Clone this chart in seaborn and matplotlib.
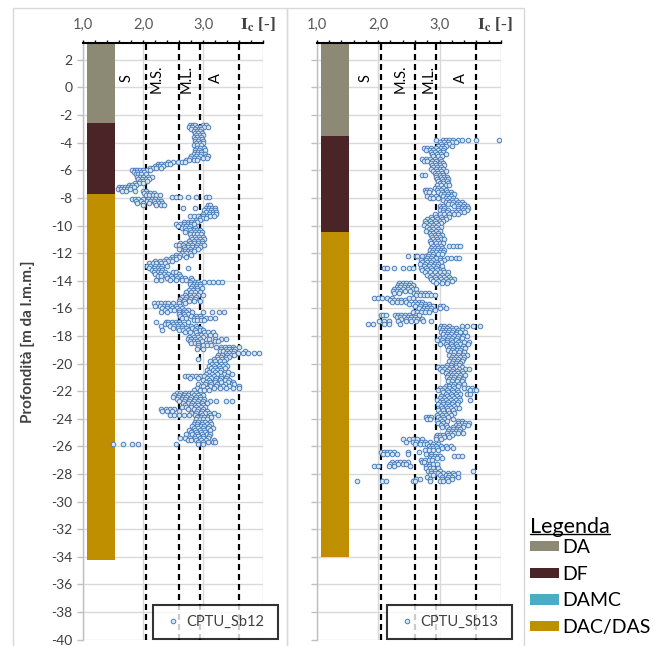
import matplotlib
matplotlib.use("Agg")
import matplotlib.pyplot as plt
import matplotlib.transforms as mtransforms
from matplotlib.patches import Patch, Rectangle
from matplotlib.lines import Line2D
import seaborn as sns
import pandas as pd

sns.set_theme(style="white")
plt.rcParams["font.family"] = ["Lato", "DejaVu Sans"]
plt.rcParams["mathtext.fontset"] = "stix"

# ---------------- data ----------------
x_ticks = [1, 2, 3, 4]
x_tick_labels = ["1,0", "2,0", "3,0", ""]
y_ticks = list(range(-40, 3, 2))
ic_limits = [2.05, 2.6, 2.95, 3.6]
zone_labels = ["S", "M.S.", "M.L.", "A"]
zone_x_sb12 = [1.73, 2.23, 2.73, 3.21]
zone_x_sb13 = [1.80, 2.36, 2.82, 3.34]

legend_names = ["DA", "DF", "DAMC", "DAC/DAS"]
legend_colors = ["#8C8A75", "#4B2427", "#4BACC6", "#BF8F00"]

sb12_layer_names = ["DA", "DF", "DAC/DAS"]
sb12_layer_top = [3.2, -2.6, -7.7]
sb12_layer_bottom = [-2.6, -7.7, -34.2]
sb13_layer_names = ["DA", "DF", "DAC/DAS"]
sb13_layer_top = [3.2, -3.5, -10.5]
sb13_layer_bottom = [-3.5, -10.5, -34.0]

sb12_depth = [-2.70, -2.85, -3.00, -3.15, -3.30, -3.45, -3.60, -3.75, -3.90, -4.05,
              -4.20, -4.35, -4.50, -4.65, -4.80, -4.95, -5.10, -5.25, -5.40, -5.55,
              -5.70, -5.85, -6.00, -6.15, -6.30, -6.45, -6.60, -6.75, -6.90, -7.05,
              -7.20, -7.35, -7.50, -7.65, -7.80, -7.95, -8.10, -8.25, -8.40, -8.55,
              -8.70, -8.85, -9.00, -9.15, -9.30, -9.45, -9.60, -9.75, -9.90, -10.05,
              -10.20, -10.35, -10.50, -10.65, -10.80, -10.95, -11.10, -11.25, -11.40, -11.55,
              -11.70, -11.85, -12.00, -12.15, -12.30, -12.45, -12.60, -12.75, -12.90, -13.05,
              -13.20, -13.35, -13.50, -13.65, -13.80, -13.95, -14.10, -14.25, -14.40, -14.55,
              -14.70, -14.85, -15.00, -15.15, -15.30, -15.50, -15.65, -15.80, -15.95, -16.10,
              -16.25, -16.40, -16.55, -16.70, -16.85, -17.00, -17.15, -17.30, -17.45, -17.60,
              -17.75, -17.90, -18.05, -18.20, -18.35, -18.50, -18.65, -18.80, -18.95, -19.10,
              -19.25, -19.40, -19.55, -19.70, -19.85, -20.00, -20.15, -20.30, -20.45, -20.60,
              -20.75, -20.90, -21.05, -21.20, -21.35, -21.50, -21.65, -21.80, -21.95, -22.10,
              -22.25, -22.40, -22.55, -22.70, -22.85, -23.00, -23.15, -23.30, -23.45, -23.60,
              -23.75, -23.90, -24.05, -24.20, -24.35, -24.50, -24.65, -24.80, -24.95, -25.10,
              -25.25, -25.40, -25.55, -25.70, -25.85]
sb12_ic = [
    [2.78, 2.83, 2.86, 3.00, 3.05], [2.76, 2.81, 2.90, 2.95, 3.02, 3.08], [2.80, 2.86, 2.93, 2.97],
    [2.84, 2.90, 2.95], [2.86, 2.92, 2.98], [2.88, 2.94, 2.99], [2.85, 2.90, 2.96], [2.87, 2.93, 2.98],
    [2.86, 2.92, 3.00], [2.88, 2.95, 2.99], [2.85, 2.90, 2.97], [2.89, 2.94, 3.01], [2.87, 2.93, 3.03],
    [2.86, 2.92, 2.97], [2.84, 2.90, 2.96, 3.04], [2.80, 2.88, 2.95, 3.05, 3.08],
    [2.78, 2.85, 2.92, 3.00, 3.07], [2.72, 2.77, 2.84, 2.89], [2.42, 2.50, 2.58, 2.64, 2.70],
    [2.25, 2.30, 2.36, 2.40, 2.45], [2.20, 2.24, 2.28, 2.33], [2.12, 2.17, 2.22, 2.30],
    [1.82, 1.86, 1.90, 1.95, 2.00, 2.06, 2.12], [1.84, 1.90, 1.96, 2.02], [1.88, 1.92, 1.97, 2.04],
    [1.90, 1.95, 2.00, 2.08, 2.14], [1.92, 1.98, 2.05, 2.10], [1.95, 2.00, 2.06], [1.87, 1.93, 1.99],
    [1.76, 1.82, 1.88], [1.60, 1.65, 1.70, 1.75, 1.80, 1.85], [1.58, 1.63, 1.68, 1.73, 1.78],
    [1.64, 1.72, 1.86, 2.00, 2.05], [2.02, 2.08, 2.12, 2.18], [2.05, 2.10, 2.16, 2.22, 2.28],
    [2.48, 2.55, 2.62, 2.75, 2.88, 3.05, 3.10], [1.82, 1.86, 1.92, 2.00, 2.08, 2.14, 2.20],
    [1.88, 1.96, 2.06, 2.12, 2.18, 2.24, 2.30], [1.90, 2.00, 2.10, 2.20, 2.27, 2.32],
    [2.00, 2.22, 2.30, 2.35, 3.08, 3.12], [2.66, 2.87, 3.05, 3.10, 3.15, 3.20],
    [3.02, 3.08, 3.14, 3.20], [3.05, 3.11, 3.17, 3.22], [3.00, 3.10, 3.16, 3.22],
    [2.78, 2.85, 2.92, 3.00, 3.06, 3.12, 3.18], [2.95, 3.00, 3.05], [2.88, 2.95],
    [2.68, 2.75, 2.80, 2.86, 2.90], [2.55, 2.62, 2.68, 2.74, 2.80, 2.85], [2.58, 2.66, 2.72, 2.78],
    [2.65, 2.70, 2.76, 2.86], [2.72, 2.78, 2.84, 2.90, 2.95], [2.70, 2.80, 2.87, 2.93, 2.98],
    [2.78, 2.84, 2.90, 2.97], [2.80, 2.86, 2.93, 3.00], [2.82, 2.88, 2.95, 3.02], [2.76, 2.84, 2.92, 2.98],
    [2.62, 2.70, 2.78, 2.85, 2.92, 2.98], [2.55, 2.60, 2.66, 2.74, 2.82, 2.90, 2.96, 3.02],
    [2.68, 2.75, 2.82, 2.88, 2.95], [2.60, 2.70, 2.78, 2.86, 2.92], [2.70, 2.75, 2.80, 2.85],
    [2.64, 2.72, 2.78], [2.55, 2.62, 2.68, 2.80], [2.48, 2.55, 2.60, 2.72], [2.38, 2.45, 2.50, 2.55],
    [2.20, 2.28, 2.35, 2.42, 2.48], [2.10, 2.16, 2.22, 2.30, 2.36], [2.06, 2.12, 2.20, 2.26, 2.32, 2.40],
    [2.10, 2.18, 2.24, 2.30, 2.75], [2.15, 2.20, 2.26, 2.32], [2.18, 2.24, 2.30, 2.36, 2.50, 2.55],
    [2.20, 2.28, 2.34, 2.42, 2.60], [2.25, 2.30, 2.38, 2.46, 2.54, 2.62],
    [2.40, 2.48, 2.56, 2.64, 2.70, 2.80], [2.22, 2.30, 2.45, 2.55, 2.65, 2.72, 2.82],
    [2.78, 2.86, 2.92, 3.02, 3.10, 3.17, 3.25, 3.32], [2.78, 2.85, 2.90, 2.95], [2.82, 2.88, 2.94],
    [2.80, 2.86, 2.90, 2.98], [2.76, 2.83, 2.90], [2.72, 2.80, 2.86, 2.94], [2.70, 2.78, 2.85, 2.92, 3.00],
    [2.65, 2.72, 2.80, 2.88], [2.62, 2.70, 2.78, 2.86], [2.60, 2.68, 2.76, 2.85, 2.95],
    [2.18, 2.24, 2.30, 2.36, 2.42, 2.50, 2.60, 2.70], [2.20, 2.28, 2.34, 2.40, 2.46, 2.55, 2.62],
    [2.32, 2.40, 2.48, 2.56, 2.64], [2.36, 2.44, 2.52, 2.60, 2.68, 2.75],
    [2.30, 2.40, 2.60, 2.68, 2.72, 2.82, 3.00, 3.15, 3.27, 3.35], [2.60, 2.68, 2.74],
    [2.62, 2.70, 2.80, 2.88, 2.95], [2.65, 2.72, 2.85, 2.90, 2.96, 3.05, 3.12, 3.20],
    [2.84, 2.90, 2.96, 3.02], [2.22, 2.38, 2.42, 2.48, 2.54, 2.60, 2.75],
    [2.36, 2.42, 2.50, 2.56, 2.62, 2.68], [2.30, 2.45, 2.52, 2.58, 2.65, 2.80, 2.88],
    [2.50, 2.58, 2.64, 2.72, 2.82, 2.90, 2.95], [2.32, 2.60, 2.66, 2.74, 2.86, 2.94, 3.00],
    [2.70, 2.78, 2.88, 3.02, 3.08, 3.16], [2.90, 2.96, 3.04, 3.12, 3.20], [2.76, 2.85, 2.92, 3.00],
    [2.74, 2.80, 2.86, 2.94, 3.10, 3.20, 3.30, 3.38], [2.78, 2.84, 2.90, 2.98, 3.20, 3.25],
    [2.80, 2.86, 2.92, 3.05, 3.12], [2.92, 3.00, 3.06, 3.14], [2.92, 3.22, 3.30, 3.36, 3.44, 3.50, 3.60],
    [2.90, 3.00, 3.30, 3.38, 3.44, 3.50, 3.54], [3.28, 3.34, 3.40, 3.46, 3.52, 3.70],
    [3.38, 3.44, 3.50, 3.58, 3.67, 3.75, 3.85, 3.93], [3.25, 3.32, 3.40, 3.46, 3.52],
    [3.24, 3.30, 3.38, 3.44], [2.92, 3.18, 3.25, 3.32, 3.38], [3.12, 3.20, 3.28, 3.35],
    [3.15, 3.22, 3.30, 3.36], [3.10, 3.18, 3.26, 3.34, 3.40], [3.14, 3.20, 3.28, 3.36],
    [3.06, 3.16, 3.24, 3.30], [3.10, 3.20, 3.28, 3.42], [3.05, 3.15, 3.24, 3.35, 3.48],
    [2.70, 2.75, 2.82, 2.88, 2.95, 3.02, 3.10, 3.18, 3.30, 3.40], [2.78, 2.92, 3.06, 3.14, 3.22, 3.30, 3.38],
    [3.00, 3.10, 3.20, 3.28, 3.36, 3.44], [3.05, 3.12, 3.20, 3.30, 3.42, 3.50],
    [2.92, 3.04, 3.14, 3.24, 3.36, 3.48, 3.52], [2.96, 3.00, 3.12, 3.22, 3.34, 3.44, 3.60],
    [2.90, 3.06, 3.18, 3.28, 3.38, 3.50, 3.60], [2.85, 2.94, 3.02, 3.10],
    [2.56, 2.62, 2.70, 2.76, 2.82, 2.88], [2.52, 2.60, 2.68, 2.75, 2.85, 2.92, 3.00],
    [2.50, 2.58, 2.66, 2.72, 2.80, 2.88, 2.95], [2.56, 2.64, 2.70, 2.78, 2.86, 2.94, 3.02],
    [2.60, 2.68, 2.76, 2.84, 2.92, 3.00, 3.12, 3.22, 3.38, 3.48], [2.66, 2.74, 2.82, 2.90, 2.98, 3.06],
    [2.70, 2.80, 2.86, 2.92, 3.00], [2.64, 2.72, 2.80, 2.88, 2.96, 3.04],
    [2.30, 2.38, 2.45, 2.52, 2.75, 2.85, 2.92, 3.00], [2.32, 2.40, 2.48, 2.60, 2.90, 2.98, 3.06],
    [2.80, 2.88, 2.96, 3.04, 3.10, 3.18], [2.44, 2.52, 2.60, 2.68, 2.76, 2.86, 2.98, 3.12, 3.25],
    [2.90, 2.96, 3.02, 3.08, 3.14], [2.88, 2.94, 3.00, 3.06], [2.86, 2.92, 2.98, 3.04, 3.12],
    [2.85, 2.90, 2.98, 3.06, 3.14], [2.82, 2.90, 2.96, 3.02, 3.10], [2.84, 2.92, 3.00, 3.08, 3.16],
    [2.76, 2.86, 2.94, 3.02, 3.12], [2.80, 2.88, 2.96, 3.04], [2.72, 2.82, 2.90, 2.98, 3.06, 3.12],
    [2.86, 2.92, 3.00, 3.10], [2.62, 2.70, 2.78, 2.86, 2.94, 3.00, 3.08],
    [2.74, 2.80, 2.88, 2.96, 3.05, 3.18], [2.92, 3.00, 3.08, 3.16, 3.20],
    [1.50, 1.66, 1.82, 1.92, 2.55, 2.92, 3.00],
]

sb13_depth = [-3.80, -3.95, -4.10, -4.25, -4.40, -4.55, -4.70, -4.85, -5.00, -5.15,
              -5.30, -5.45, -5.60, -5.75, -5.90, -6.05, -6.20, -6.35, -6.50, -6.65,
              -6.80, -6.95, -7.10, -7.25, -7.40, -7.55, -7.70, -7.85, -8.00, -8.15,
              -8.30, -8.45, -8.60, -8.75, -8.90, -9.05, -9.20, -9.35, -9.50, -9.65,
              -9.80, -9.95, -10.10, -10.25, -10.40, -10.55, -10.70, -10.85, -11.00, -11.15,
              -11.30, -11.45, -11.60, -11.75, -11.90, -12.05, -12.20, -12.35, -12.50, -12.65,
              -12.80, -12.95, -13.10, -13.25, -13.40, -13.55, -13.70, -13.85, -14.00, -14.15,
              -14.30, -14.45, -14.60, -14.75, -14.90, -15.05, -15.25, -15.40, -15.55, -15.70,
              -15.85, -16.00, -16.15, -16.30, -16.45, -16.60, -16.75, -16.90, -17.10, -17.25,
              -17.40, -17.55, -17.70, -17.85, -18.00, -18.15, -18.30, -18.45, -18.60, -18.75,
              -18.90, -19.05, -19.20, -19.35, -19.50, -19.65, -19.80, -19.95, -20.10, -20.25,
              -20.40, -20.55, -20.70, -20.85, -21.00, -21.15, -21.30, -21.45, -21.60, -21.75,
              -21.90, -22.05, -22.20, -22.35, -22.50, -22.65, -22.80, -22.95, -23.10, -23.25,
              -23.40, -23.55, -23.70, -23.85, -24.00, -24.15, -24.30, -24.45, -24.60, -24.75,
              -24.90, -25.05, -25.20, -25.35, -25.50, -25.65, -25.80, -25.95, -26.10, -26.25,
              -26.40, -26.55, -26.70, -26.85, -27.00, -27.15, -27.30, -27.45, -27.60, -27.75,
              -27.90, -28.05, -28.20, -28.35, -28.50]
sb13_ic = [
    [2.95, 3.05, 3.10, 3.16, 3.22, 3.30, 3.36, 3.47, 3.60, 3.97], [3.00, 3.08, 3.14, 3.20, 3.27],
    [3.02, 3.10, 3.16], [2.98, 3.04, 3.10, 3.20], [2.75, 2.80, 2.86, 2.95, 3.02, 3.08],
    [2.78, 2.84, 2.90, 2.98, 3.05], [2.86, 2.92, 3.00, 3.06], [2.88, 2.96, 3.02, 3.10],
    [2.90, 2.98, 3.04], [2.72, 2.78, 2.84, 2.92, 3.00], [2.74, 2.80, 2.88, 2.95, 3.02],
    [2.86, 2.92, 3.00, 3.06], [2.88, 2.94, 3.00, 3.08], [2.90, 2.96, 3.02], [2.86, 2.94, 3.00, 3.05],
    [2.90, 2.96, 3.03, 3.10], [2.92, 2.98, 3.04], [2.72, 2.76, 2.94, 3.00, 3.06],
    [2.95, 3.02, 3.08, 3.12], [2.96, 3.04, 3.10, 3.14], [2.98, 3.05, 3.12], [3.00, 3.06, 3.14],
    [2.96, 3.02, 3.10, 3.16], [2.92, 2.98, 3.05], [2.76, 2.80, 2.84, 2.96, 3.02, 3.10],
    [2.78, 2.82, 2.97, 3.04, 3.12, 3.18], [3.02, 3.08, 3.14, 3.20, 3.24],
    [2.80, 2.86, 2.94, 3.06, 3.12, 3.18], [2.84, 2.90, 2.98, 3.10, 3.16, 3.22],
    [3.06, 3.12, 3.20, 3.26], [3.10, 3.16, 3.22, 3.30, 3.36], [3.14, 3.20, 3.28, 3.34, 3.40],
    [3.00, 3.06, 3.24, 3.30, 3.38, 3.44], [3.02, 3.08, 3.30, 3.36, 3.42, 3.46],
    [3.00, 3.06, 3.14, 3.30, 3.38, 3.44], [3.06, 3.12, 3.20, 3.26, 3.34, 3.40],
    [2.92, 3.00, 3.08, 3.16, 3.24, 3.30], [2.86, 2.94, 3.02, 3.10, 3.16],
    [2.80, 2.88, 2.96, 3.04, 3.10], [2.76, 2.84, 2.92, 3.00, 3.06], [2.78, 2.86, 2.94, 3.02],
    [2.74, 2.82, 2.90, 2.98], [2.80, 2.88, 2.95, 3.02], [2.82, 2.90, 2.97], [2.78, 2.86, 2.94, 3.00],
    [2.84, 2.90, 2.98], [2.86, 2.92, 2.98, 3.04], [2.88, 2.94, 3.00], [2.90, 2.96, 3.02, 3.08],
    [2.84, 2.92, 2.98], [2.86, 2.94, 3.00, 3.06], [2.90, 2.96, 3.02, 3.16, 3.22, 3.28, 3.34],
    [2.86, 2.92, 2.98, 3.04], [2.84, 2.90, 2.96, 3.02, 3.08], [2.88, 2.94, 3.00, 3.06],
    [2.82, 2.90, 2.98, 3.04], [2.48, 2.62, 2.64, 2.72, 2.78, 2.81, 2.88],
    [2.80, 2.86, 2.94, 3.00, 3.12, 3.18, 3.26, 3.32], [2.70, 2.78, 2.84, 2.90, 3.00, 3.08],
    [2.72, 2.80, 2.86, 2.94, 3.02], [2.68, 2.76, 2.84, 2.92, 2.98], [2.74, 2.82, 2.90, 2.96, 3.04],
    [2.10, 2.15, 2.26, 2.40, 2.51, 2.56, 2.70, 2.78, 2.86, 2.94], [2.72, 2.80, 2.88, 2.96, 3.06],
    [2.76, 2.84, 2.92, 3.00, 3.08, 3.14], [2.80, 2.88, 2.96, 3.04, 3.12],
    [2.84, 2.92, 3.00, 3.08, 3.16], [2.86, 2.94, 3.02, 3.10, 3.18, 3.24],
    [2.90, 2.98, 3.06, 3.14, 3.20], [2.34, 2.40, 2.46, 2.52, 2.95, 3.04, 3.12],
    [2.32, 2.38, 2.44, 2.50, 2.56], [2.30, 2.36, 2.42, 2.48, 2.54], [2.26, 2.32, 2.40, 2.48, 2.56, 2.62],
    [2.24, 2.30, 2.36, 2.44, 2.52], [2.26, 2.34, 2.58, 2.64, 2.70, 2.76, 2.82],
    [2.62, 2.68, 2.74, 2.80, 2.86, 2.92], [1.93, 1.99, 2.07, 2.15, 2.23, 2.50, 2.56],
    [2.20, 2.26, 2.32, 2.38, 2.44], [2.22, 2.30, 2.38, 2.46, 2.60, 2.66, 2.72],
    [2.50, 2.56, 2.64, 2.70, 2.76, 2.82], [2.60, 2.68, 2.76, 2.84, 2.90, 3.00, 3.06],
    [2.66, 2.74, 2.80, 2.86, 3.00, 3.10], [2.72, 2.78, 2.84, 2.92], [2.56, 2.64, 2.70, 2.76, 2.82],
    [2.04, 2.08, 2.12, 2.27, 2.32, 2.38, 2.44, 2.50, 2.62, 2.66], [2.30, 2.36, 2.42, 2.48, 2.54, 2.60],
    [2.38, 2.46, 2.52, 2.58, 2.64, 2.72], [2.02, 2.10, 2.18, 2.32, 2.45, 2.54, 2.62, 2.73, 2.86],
    [1.83, 1.91, 2.10, 2.18, 2.35], [3.02, 3.08, 3.16, 3.36, 3.44, 3.55, 3.66],
    [3.00, 3.06, 3.12, 3.20, 3.26], [3.04, 3.10, 3.16, 3.22, 3.30, 3.36],
    [3.02, 3.08, 3.14, 3.20, 3.28, 3.34, 3.42], [3.06, 3.12, 3.18, 3.26],
    [3.10, 3.16, 3.24, 3.30, 3.38, 3.44], [3.00, 3.06, 3.14, 3.20, 3.28, 3.36],
    [2.96, 3.04, 3.12, 3.18, 3.26], [3.06, 3.12, 3.20, 3.30, 3.40, 3.48],
    [3.00, 3.10, 3.18, 3.26, 3.34, 3.46], [3.12, 3.20, 3.28, 3.38], [3.16, 3.22, 3.30, 3.36, 3.42],
    [3.14, 3.20, 3.28, 3.34], [3.18, 3.24, 3.32, 3.40], [3.16, 3.22, 3.30, 3.38, 3.44],
    [3.20, 3.26, 3.34, 3.40], [3.18, 3.24, 3.30, 3.38], [3.16, 3.22, 3.28, 3.36], [3.20, 3.26, 3.34],
    [3.12, 3.18, 3.26, 3.32], [2.98, 3.04, 3.10, 3.18, 3.26, 3.36],
    [3.00, 3.08, 3.16, 3.22, 3.32, 3.42, 3.48], [3.04, 3.12, 3.20, 3.28, 3.36],
    [3.10, 3.18, 3.24, 3.30, 3.38], [3.14, 3.20, 3.26, 3.34, 3.42], [3.12, 3.18, 3.24, 3.32],
    [3.16, 3.22, 3.30, 3.38], [3.14, 3.20, 3.28, 3.36], [3.18, 3.24, 3.32, 3.40],
    [3.10, 3.16, 3.22, 3.30], [3.00, 3.08, 3.16, 3.24, 3.40, 3.46, 3.52],
    [2.98, 3.04, 3.12, 3.20, 3.28, 3.50, 3.56, 3.60], [3.06, 3.14, 3.22, 3.30],
    [3.10, 3.18, 3.26, 3.34, 3.44, 3.50], [3.02, 3.12, 3.20, 3.28], [3.00, 3.08, 3.16, 3.24, 3.32],
    [2.96, 3.04, 3.10, 3.18, 3.26, 3.34, 3.50], [3.00, 3.06, 3.14, 3.22, 3.30],
    [2.98, 3.06, 3.12, 3.20, 3.28], [3.02, 3.10, 3.16, 3.24], [3.04, 3.12, 3.18, 3.26, 3.32],
    [2.98, 3.06, 3.14, 3.22], [3.00, 3.08, 3.16, 3.24], [2.96, 3.04, 3.10, 3.18],
    [2.78, 2.82, 2.86, 2.98, 3.06, 3.14], [2.80, 2.84, 3.00, 3.08, 3.22],
    [2.96, 3.04, 3.12, 3.30, 3.36], [2.98, 3.06, 3.30, 3.36, 3.42, 3.48],
    [3.02, 3.10, 3.26, 3.32, 3.40, 3.46], [3.04, 3.12, 3.22, 3.30, 3.38], [3.16, 3.22, 3.28, 3.34],
    [3.14, 3.20, 3.26, 3.32], [3.12, 3.18, 3.24, 3.30, 3.38], [2.96, 3.00, 3.06, 3.14, 3.20],
    [2.95, 3.00, 3.08, 3.16], [2.40, 2.50, 2.56, 2.64, 2.72, 2.95, 3.02],
    [2.46, 2.56, 2.62, 2.70, 2.76, 2.84], [2.60, 2.68, 2.74, 2.80, 2.90, 2.98],
    [2.82, 2.88, 2.94, 3.02, 3.10, 3.18], [2.84, 2.90, 2.96, 3.04, 3.12, 3.22],
    [2.76, 2.82, 2.90, 2.98], [2.04, 2.10, 2.15, 2.20, 2.26, 2.48, 2.66],
    [2.08, 2.14, 2.22, 2.30, 2.48, 2.78, 2.86], [2.86, 2.92, 2.98, 3.00, 3.24, 3.30, 3.36],
    [2.84, 2.90, 2.96, 3.04], [2.70, 2.76, 2.82, 2.88], [2.22, 2.30, 2.36, 2.42, 2.48, 2.72, 2.75],
    [2.20, 2.26, 2.32, 2.40, 2.46, 2.84, 2.90, 2.96], [1.93, 1.99, 2.18, 2.26, 2.52, 2.78, 2.82],
    [2.78, 2.84, 2.90, 2.98], [2.81, 2.86, 2.92, 3.00, 3.55],
    [2.86, 2.92, 2.98, 3.06, 3.14, 3.22, 3.30], [2.84, 2.90, 3.00, 3.10, 3.16, 3.24],
    [2.80, 3.04, 3.14, 3.20, 3.30], [2.62, 2.68, 2.84, 3.04, 3.12, 3.20],
    [1.66, 2.07, 2.12, 2.56, 2.60, 2.84, 3.00, 3.06, 3.14],
]


def rows_to_df(depths, ics):
    rec = [(ic, d) for d, row in zip(depths, ics) for ic in row]
    return pd.DataFrame(rec, columns=["Ic", "depth"])


sb12 = rows_to_df(sb12_depth, sb12_ic)
sb13 = rows_to_df(sb13_depth, sb13_ic)

# ---------------- figure ----------------
W, H = 654, 646
fig = plt.figure(figsize=(W / 100, H / 100), dpi=100)
fig.patch.set_facecolor("white")

# chart-area frames (Excel style)
fig.patches.append(Rectangle((13 / W, -0.02), 274 / W, 1 - 8 / H + 0.02, transform=fig.transFigure,
                             fill=False, edgecolor="#D9D9D9", linewidth=1.0, zorder=0))
fig.patches.append(Rectangle((287 / W, -0.02), 237 / W, 1 - 8 / H + 0.02, transform=fig.transFigure,
                             fill=False, edgecolor="#D9D9D9", linewidth=1.0, zorder=0))

ax_bottom = 1 - 639.6 / H
ax_h = (639.6 - 43.3) / H
ax1 = fig.add_axes([83.3 / W, ax_bottom, 179.7 / W, ax_h])
ax2 = fig.add_axes([316.7 / W, ax_bottom, 184.3 / W, ax_h])

panels = [
    (ax1, sb12, "CPTU_Sb12", sb12_layer_names, sb12_layer_top, sb12_layer_bottom, zone_x_sb12, True, 3.91),
    (ax2, sb13, "CPTU_Sb13", sb13_layer_names, sb13_layer_top, sb13_layer_bottom, zone_x_sb13, False, 3.9),
]

color_of = dict(zip(legend_names, legend_colors))

for ax, df, name, lnames, ltop, lbot, zx, show_y, icx in panels:
    ax.set_facecolor("white")
    ax.set_xlim(1, 4)
    ax.set_ylim(-40, 3.2)
    ax.set_axisbelow(True)
    ax.grid(True, color="#D9D9D9", linewidth=1.0)

    # soil layer column
    for n, t, b in zip(lnames, ltop, lbot):
        ax.bar(1.3, t - b, bottom=b, width=0.46, color=color_of[n], edgecolor="none", zorder=2)

    # Ic boundaries
    for v in ic_limits:
        ax.axvline(v, color="black", linewidth=1.6, linestyle=(0, (2.7, 1.8)), zorder=3)

    # zone labels
    for lab, x in zip(zone_labels, zx):
        ax.text(x, 0.65, lab, rotation=90, ha="center", va="center", fontsize=10.5,
                color="black", zorder=4)

    sns.scatterplot(data=df, x="Ic", y="depth", ax=ax, s=11, marker="o",
                    facecolor="#DCE6F2", edgecolor="#4A7EBB", linewidth=0.7,
                    label=name, zorder=5, legend=False)

    # axes styling
    ax.xaxis.tick_top()
    ax.xaxis.set_label_position("top")
    ax.set_xticks(x_ticks)
    ax.set_xticklabels(x_tick_labels)
    ax.set_xticks([1 + 0.2 * i for i in range(16)], minor=True)
    ax.tick_params(axis="x", which="both", top=True, bottom=False, direction="out",
                   length=2.5, width=1.0, color="black", labelsize=10.5,
                   labelcolor="#595959", pad=6)
    ax.set_xlabel("")

    ax.set_yticks(y_ticks)
    ax.set_yticklabels([str(t) for t in y_ticks] if show_y else [])
    ax.tick_params(axis="y", which="major", left=True, direction="out", length=4,
                   width=1.0, color="#BFBFBF", labelsize=10, labelcolor="#404040", pad=4)

    ax.spines["bottom"].set_visible(False)
    ax.spines["right"].set_visible(False)
    ax.spines["top"].set_color("black")
    ax.spines["top"].set_linewidth(1.5)
    ax.spines["left"].set_color("#BFBFBF")
    ax.spines["left"].set_linewidth(1.0)

    trans = mtransforms.blended_transform_factory(ax.transData, ax.transAxes)
    ax.text(icx, 1.031, r"$\mathbf{I_c}$ [-]", transform=trans, ha="center", va="center",
            fontsize=12.5, fontweight="bold", family="Liberation Serif", color="#404040")

    if show_y:
        ax.set_ylabel("Profondità [m da l.m.m.]", fontsize=11, fontweight="bold",
                      color="#404040")
        ax.yaxis.set_label_coords(-0.27, 0.5)
    else:
        ax.set_ylabel("")

# series legends (boxed, bottom)
for name, x0 in [("CPTU_Sb12", 153), ("CPTU_Sb13", 387)]:
    h = Line2D([], [], linestyle="none", marker="o", markersize=3.3,
               markerfacecolor="#DCE6F2", markeredgecolor="#4A7EBB", markeredgewidth=0.7)
    leg = fig.legend([h], [name], loc="center", mode="expand",
                     bbox_to_anchor=(x0 / W, 1 - 640 / H, 125 / W, 36 / H),
                     bbox_transform=fig.transFigure, fontsize=10.5, frameon=True,
                     fancybox=False, borderpad=0.7, handlelength=1.4, handletextpad=0.2,
                     borderaxespad=0)
    leg.get_frame().set_edgecolor("black")
    leg.get_frame().set_linewidth(1.5)
    for t in leg.get_texts():
        t.set_color("#404040")

# layer legend ("Legenda")
handles = [Patch(facecolor=c, edgecolor="none") for c in legend_colors]
lg = fig.legend(handles, legend_names, loc="upper left",
                bbox_to_anchor=(530 / W, 1 - 539 / H), bbox_transform=fig.transFigure,
                frameon=False, fontsize=14, handlelength=1.5, handleheight=0.45,
                handletextpad=0.15, labelspacing=0.5, borderpad=0, borderaxespad=0)
for t in lg.get_texts():
    t.set_color("black")

title = fig.text(530 / W, 1 - 527 / H, "Legenda", fontsize=15.5, ha="left", va="center",
                 color="black")
fig.canvas.draw()
bb = title.get_window_extent().transformed(fig.transFigure.inverted())
yline = bb.y0 + 0.004
fig.add_artist(Line2D([bb.x0, bb.x1], [yline, yline], transform=fig.transFigure,
                      color="black", linewidth=1.0))

fig.savefig("out.png", dpi=100)
